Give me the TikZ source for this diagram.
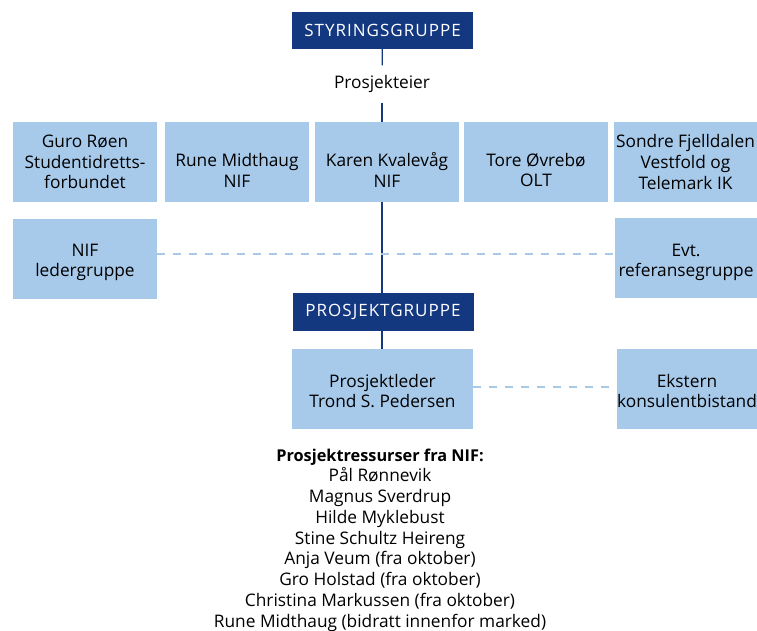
\documentclass[tikz,border=0pt]{standalone}
\usepackage{fontspec}
\setmainfont{Open Sans}
\usepackage{tikz}

\definecolor{navy}{HTML}{14387F}
\definecolor{paleblue}{HTML}{A7CAEB}

\begin{document}
\begin{tikzpicture}[x=1pt, y=-1pt,
  every node/.style={font=\fontsize{17.3}{20.6}\selectfont, align=center, inner sep=0pt},
  head/.style={fill=navy, text=white, minimum width=181pt, minimum height=37pt,
    font=\fontsize{17}{20}\selectfont\addfontfeature{LetterSpace=6}},
  member/.style={fill=paleblue, text=black, minimum width=144pt, minimum height=80pt},
  lowered/.style={text height=50pt},
  link/.style={navy, line width=1.2pt},
  dashlink/.style={paleblue, line width=1.2pt, dash pattern=on 8pt off 8pt}]
\useasboundingbox (0,0) rectangle (757,630);
\node[head] (styr) at (382.5,30.5) {STYRINGSGRUPPE};
\node[minimum height=37pt] (eier) at (382,84) {Prosjekteier};
\node[member] (guro) at (85,162) {Guro Røen\\Studentidretts-\\forbundet};
\node[member, lowered] (rune) at (237,162) {Rune Midthaug\\NIF};
\node[member, lowered] (karen) at (387,162) {Karen Kvalevåg\\NIF};
\node[member, lowered] (tore) at (536,162) {Tore Øvrebø\\OLT};
\node[member, minimum width=143pt] (sondre) at (685.5,162) {Sondre Fjelldalen\\Vestfold og\\Telemark IK};
\node[member, text height=40pt] (nifl) at (85,259) {NIF\\ledergruppe};
\node[member, minimum width=142pt, text height=42pt] (evt) at (686,258) {Evt.\\referansegruppe};
\node[head, minimum height=38pt] (prosg) at (383,312) {PROSJEKTGRUPPE};
\node[member, minimum width=181pt, text height=38pt] (leder) at (382.5,389) {Prosjektleder\\Trond S. Pedersen};
\node[member, minimum width=140pt, text height=38pt] (ekstern) at (687,389) {Ekstern\\konsulentbistand};
\node[font=\fontsize{17.3}{20.75}\selectfont] (ressurs) at (380,540) {{\fontsize{16.3}{20.75}\selectfont\bfseries Prosjektressurser fra NIF:}\\Pål Rønnevik\\Magnus Sverdrup\\Hilde Myklebust\\Stine Schultz Heireng\\Anja Veum (fra oktober)\\Gro Holstad (fra oktober)\\Christina Markussen (fra oktober)\\Rune Midthaug (bidratt innenfor marked)};
\draw[link] (styr) -- (eier);
\draw[link] (eier) -- (eier |- karen.north);
\draw[link] (eier |- karen.south) -- (eier |- prosg.north);
\draw[link] (eier |- prosg.south) -- (eier |- leder.north);
\draw[dashlink] (nifl.east |- 0,254) -- (evt.west |- 0,254);
\draw[dashlink] (leder.east |- 0,387) -- (ekstern.west |- 0,387);
\end{tikzpicture}
\end{document}
